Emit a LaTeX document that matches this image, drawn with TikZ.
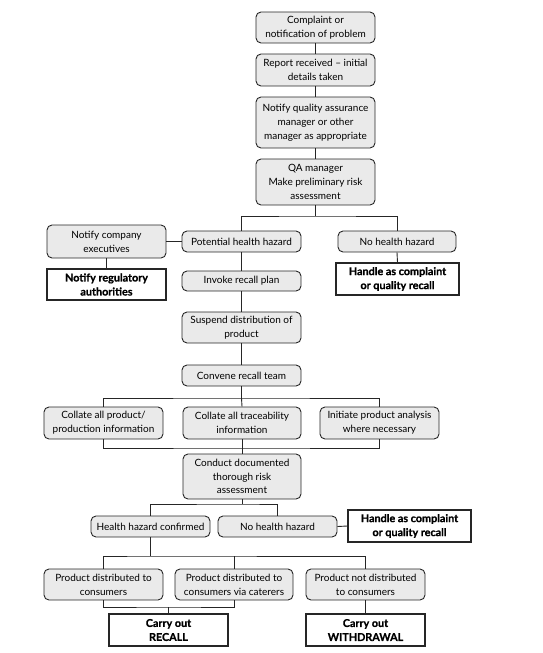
\documentclass[tikz,border=0pt]{standalone}
\usepackage{fontspec}
\setmainfont{Lato}
\newfontfamily\heavyfont{Lato Bold}[AutoFakeBold=0.9]
\definecolor{boxfill}{HTML}{EAEAEA}
\definecolor{edge}{HTML}{262626}
\begin{document}
\begin{tikzpicture}[x=1pt,y=1pt,
  gbox/.style={draw=edge, line width=0.9pt, fill=boxfill, rounded corners=5pt, align=center, inner sep=0pt,
     font=\fontsize{10}{13.8}\selectfont},
  bbox/.style={draw=edge, line width=1.1pt, fill=white, align=center, inner sep=0pt,
     font=\fontsize{10.8}{14}\selectfont\heavyfont\bfseries},
  conn/.style={draw=edge, line width=0.9pt}]
\useasboundingbox (0,0) rectangle (542,-653);

\node[gbox, minimum width=119, minimum height=31] (c1) at (315.5,-27.5) {Complaint or\\notification of problem};
\node[gbox, minimum width=119, minimum height=32] (c2) at (315.5,-70) {Report received -- initial\\details taken};
\node[gbox, minimum width=119, minimum height=51] (c3) at (315.5,-122.5) {Notify quality assurance\\manager or other\\manager as appropriate};
\node[gbox, minimum width=119, minimum height=46] (c4) at (315.5,-182) {QA manager\\Make preliminary risk\\assessment};

\node[gbox, minimum width=119, minimum height=33] (exec) at (106.5,-241.5) {Notify company\\executives};
\node[gbox, minimum width=119, minimum height=21] (phh) at (241.5,-241.5) {Potential health hazard};
\node[gbox, minimum width=118, minimum height=21] (nhh1) at (397,-241.5) {No health hazard};
\node[bbox, minimum width=119, minimum height=31] (reg) at (106.5,-284.5) {Notify regulatory\\authorities};
\node[bbox, minimum width=123, minimum height=32] (hand1) at (397.5,-279) {Handle as complaint\\or quality recall};
\node[gbox, minimum width=119, minimum height=20] (inv) at (241.5,-281) {Invoke recall plan};
\node[gbox, minimum width=119, minimum height=31] (susp) at (241.5,-327.5) {Suspend distribution of\\product};
\node[gbox, minimum width=119, minimum height=21] (conv) at (241.5,-375.5) {Convene recall team};

\node[gbox, minimum width=119, minimum height=32] (col1) at (103.5,-423) {Collate all product/\\production information};
\node[gbox, minimum width=118, minimum height=32] (col2) at (242,-423) {Collate all traceability\\information};
\node[gbox, minimum width=119, minimum height=32] (init) at (379.5,-423) {Initiate product analysis\\where necessary};
\node[gbox, minimum width=118, minimum height=45] (cond) at (242,-476.5) {Conduct documented\\thorough risk\\assessment};

\node[gbox, minimum width=119, minimum height=21] (hhc) at (150.5,-526.5) {Health hazard confirmed};
\node[gbox, minimum width=119, minimum height=21] (nhh2) at (277.5,-526.5) {No health hazard};
\node[bbox, minimum width=123, minimum height=32] (hand2) at (409.5,-526) {Handle as complaint\\or quality recall};

\node[gbox, minimum width=119, minimum height=31] (p1) at (103.5,-584.5) {Product distributed to\\consumers};
\node[gbox, minimum width=118, minimum height=31] (p2) at (234,-584.5) {Product distributed to\\consumers via caterers};
\node[gbox, minimum width=119, minimum height=31] (p3) at (365.5,-584.5) {Product not distributed\\to consumers};
\node[bbox, minimum width=119, minimum height=32] (rec) at (168.5,-630) {Carry out\\RECALL};
\node[bbox, minimum width=119, minimum height=32] (wd) at (365.5,-630) {Carry out\\WITHDRAWAL};

\coordinate (b1) at (315.5,-216);
\coordinate (b2) at (241.5,-398);
\coordinate (b3) at (242,-448);
\coordinate (b4) at (242,-504);
\coordinate (b5) at (150.5,-556);
\coordinate (b6) at (168.5,-607);

\draw[conn] (c1) -- (c2);
\draw[conn] (c2) -- (c3);
\draw[conn] (c3) -- (c4);
\draw[conn] (c4.south) -- (b1);
\draw[conn] (phh.north) |- (b1) -| (nhh1.north);
\draw[conn] (exec.east) -- (phh.west);
\draw[conn] (exec.south) -- (reg.north);
\draw[conn] (nhh1.south) -- (hand1.north);
\draw[conn] (phh) -- (inv);
\draw[conn] (inv) -- (susp);
\draw[conn] (susp) -- (conv);
\draw[conn] (conv.south) -- (b2);
\draw[conn] (col1.north) |- (b2) -| (init.north);
\draw[conn] (b2) -- (col2.north);
\draw[conn] (col1.south) |- (b3) -| (init.south);
\draw[conn] (col2.south) -- (cond.north);
\draw[conn] (cond.south) -- (b4);
\draw[conn] (hhc.north) |- (b4) -| (nhh2.north);
\draw[conn] (nhh2.east) -- (hand2.west);
\draw[conn] (hhc.south) -- (b5);
\draw[conn] (p1.north) |- (b5) -| (p3.north);
\draw[conn] (p2.north) -- (p2.north |- b5);
\draw[conn] (p1.south) |- (b6) -| (p2.south);
\draw[conn] (b6) -- (rec.north);
\draw[conn] (p3.south) -- (wd.north);
\end{tikzpicture}
\end{document}
